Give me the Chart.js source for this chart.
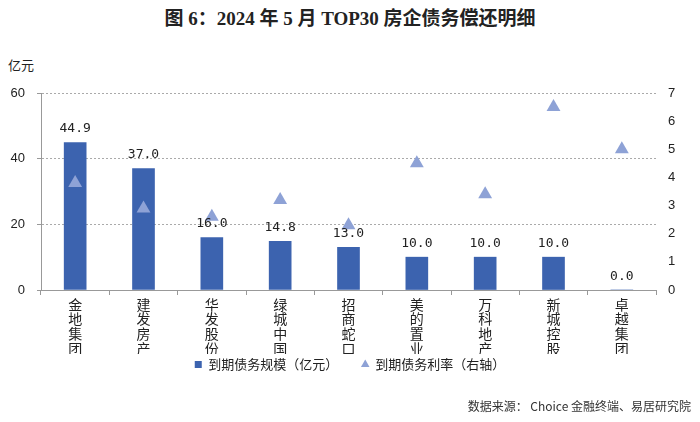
<!DOCTYPE html>
<html>
<head>
<meta charset="utf-8">
<script src="https://cdn.jsdelivr.net/npm/chart.js@4.4.1/dist/chart.umd.min.js"></script>
<style>
  html, body { margin: 0; padding: 0; background: #fff; }
  #wrap { position: relative; width: 700px; height: 422px; font-family: "Noto Sans CJK SC", sans-serif; color: #222; }
  #title { position: absolute; top: 3px; left: 0; width: 700px; text-align: center; font: bold 19px "Liberation Serif", "Noto Sans CJK SC", serif; }
  #unit { position: absolute; top: 55px; left: 8px; font-size: 13px; }
  #source { position: absolute; top: 397px; right: 9px; font-size: 12px; color: #333; }
  canvas { position: absolute; left: 0; top: 0; }
</style>
</head>
<body>
<div id="wrap">
  <div id="title">图 6：2024 年 5 月 TOP30 房企债务偿还明细</div>
  <div id="unit">亿元</div>
  <canvas id="c" width="700" height="422"></canvas>
  <div id="source">数据来源： Choice 金融终端、易居研究院</div>
</div>
<script>
// 数据
const categories = ["金地集团", "建发房产", "华发股份", "绿城中国", "招商蛇口", "美的置业", "万科地产", "新城控股", "卓越集团"];
const debtScale = [44.9, 37.0, 16.0, 14.8, 13.0, 10.0, 10.0, 10.0, 0.0];   // 亿元
const debtRate = [3.8, 2.9, 2.6, 3.2, 2.3, 4.5, 3.4, 6.5, 5.0];            // %，右轴
const leftTicks = [0, 20, 40, 60];

const BAR_COLOR = "#3c63af";
const TRI_COLOR = "#8ea2d6";
const TICK_FONT = { family: "'Liberation Sans', 'Noto Sans CJK SC', sans-serif", size: 13 };

// 柱顶数值标签
const barLabels = {
  id: "barLabels",
  afterDatasetsDraw(chart) {
    const meta = chart.getDatasetMeta(0);
    const ctx = chart.ctx;
    ctx.save();
    ctx.font = "13px 'DejaVu Sans Mono', 'Noto Sans CJK SC', monospace";
    ctx.fillStyle = "#222";
    ctx.textAlign = "center";
    ctx.textBaseline = "bottom";
    meta.data.forEach((bar, i) => {
      ctx.fillText(debtScale[i].toFixed(1), bar.x, bar.y - 7);
    });
    ctx.restore();
  }
};

new Chart(document.getElementById("c"), {
  data: {
    labels: categories.map(s => s.split("")),
    datasets: [
      {
        type: "bar",
        label: "到期债务规模（亿元）",
        data: debtScale,
        backgroundColor: BAR_COLOR,
        barThickness: 22,
        yAxisID: "y",
        pointStyle: "rect",
        order: 2
      },
      {
        type: "line",
        label: "到期债务利率（右轴）",
        data: debtRate,
        showLine: false,
        pointStyle: "triangle",
        pointRadius: 8,
        pointHoverRadius: 8,
        backgroundColor: TRI_COLOR,
        borderColor: TRI_COLOR,
        borderWidth: 0,
        yAxisID: "y1",
        order: 1
      }
    ]
  },
  options: {
    responsive: false,
    animation: false,
    layout: { padding: { top: 93, bottom: 41, left: 0, right: 0 } },
    plugins: {
      legend: {
        position: "bottom",
        labels: {
          usePointStyle: true,
          boxWidth: 7,
          boxHeight: 7,
          padding: 4,
          color: "#222",
          font: { family: "'Noto Sans CJK SC', sans-serif", size: 13 },
          sort: (a, b) => a.datasetIndex - b.datasetIndex,
          generateLabels(chart) {
            const items = Chart.defaults.plugins.legend.labels.generateLabels(chart);
            items.forEach(it => { if (it.datasetIndex === 0) it.text += "\u3000\u3000"; });
            return items;
          }
        }
      },
      tooltip: { enabled: false }
    },
    scales: {
      x: {
        offset: true,
        grid: { offset: true, drawOnChartArea: false, drawTicks: true, tickLength: 5, color: "#999" },
        border: { color: "#999" },
        ticks: { color: "#222", padding: 2, maxRotation: 0, autoSkip: false, font: { family: "'Noto Sans CJK SC', sans-serif", size: 14, lineHeight: 1.05 } },
        afterFit(scale) { scale.height = 64; }
      },
      y: {
        position: "left",
        min: 0, max: 60,
        afterBuildTicks(scale) { scale.ticks = leftTicks.map(v => ({ value: v })); },
        grid: {
          color: ctx => ctx.tick && ctx.tick.value === 0 ? "rgba(0,0,0,0)" : "#aaa",
          tickColor: "#999",
          tickLength: 4
        },
        border: { color: "#999", dash: [2, 2] },
        ticks: { color: "#222", padding: 12, font: TICK_FONT },
        afterFit(scale) { scale.width = 41; }
      },
      y1: {
        position: "right",
        min: 0, max: 7,
        ticks: { stepSize: 1, color: "#222", padding: 12, font: TICK_FONT },
        grid: { display: false, drawTicks: false },
        border: { display: false },
        afterFit(scale) { scale.width = 44; }
      }
    }
  },
  plugins: [barLabels]
});
</script>
</body>
</html>
